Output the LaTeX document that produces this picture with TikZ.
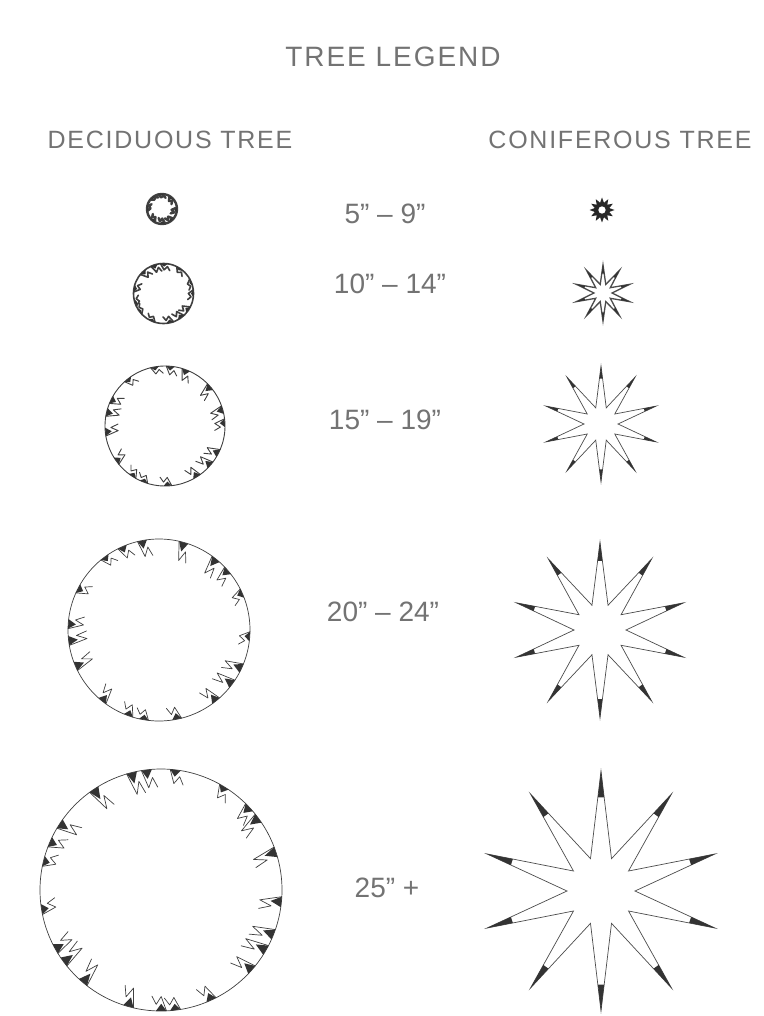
\documentclass[tikz,border=0pt]{standalone}
\usepackage{fontspec}
\setmainfont{Liberation Sans}
\newfontfamily\spacedfont[LetterSpace=7]{Liberation Sans}
\usetikzlibrary{calc}
\newcommand\decidtree[7]{% x y R N lw s depth
  \begin{scope}[shift={(#1,#2)}]
    \draw[draw=black!75, line width=#5] (0,0) circle[radius=#3];
    \foreach \k in {1,...,#4}{
      \pgfmathsetmacro\aa{360*\k/#4 + 6*sin(97*\k)}
      \pgfmathsetmacro\dd{#3*#7*(1+0.3*sin(53*\k))}
      \draw[draw=black!75, line width=#5, line join=round, line cap=round]
        ({\aa-#6}:#3) -- (\aa:{#3-\dd}) -- ({\aa+#6}:{#3-0.45*\dd}) -- ({\aa+2*#6}:{#3-\dd});
      \fill[black!80] ({\aa-#6}:#3) -- ({\aa+#6}:#3) -- (\aa:{#3-0.5*\dd}) -- cycle;
    }
  \end{scope}}
\newcommand\conifertree[7]{% x y R ri N lw tipfrac
  \begin{scope}[shift={(#1,#2)}]
    \pgfmathsetmacro\st{360/#5}
    \draw[draw=black!70, line width=#6, line join=miter, miter limit=25]
      (90:#3) \foreach \k in {1,...,#5}{ -- ({90+\st*\k-\st/2}:#4) -- ({90+\st*\k}:#3)} -- cycle;
    \foreach \k in {1,...,#5}{
      \fill[black!80] ({90+\st*\k}:#3)
        -- ($({90+\st*\k}:#3)!#7!({90+\st*\k-\st/2}:#4)$)
        -- ($({90+\st*\k}:#3)!#7!({90+\st*\k+\st/2}:#4)$) -- cycle;
    }
  \end{scope}}
\begin{document}
\begin{tikzpicture}[x=1pt,y=-1pt,
  ttl/.style={text=black!55, inner sep=0pt, font=\spacedfont\fontsize{28}{30}\selectfont},
  hdr/.style={text=black!55, inner sep=0pt, font=\spacedfont\fontsize{25}{28}\selectfont},
  lbl/.style={text=black!55, inner sep=0pt, font=\fontsize{28}{30}\selectfont}]
\useasboundingbox[fill=white] (0,0) rectangle (763,1016);

% texts
\node[ttl] (title) at (393,57) {TREE LEGEND};
\node[hdr] (hdec) at (170,140) {DECIDUOUS TREE};
\node[hdr] (hcon) at (620,140) {CONIFEROUS TREE};
\node[lbl] (s1) at (385,214) {5" – 9"};
\node[lbl] (s2) at (390,284) {10" – 14"};
\node[lbl] (s3) at (385,420) {15" – 19"};
\node[lbl] (s4) at (383,612) {20" – 24"};
\node[lbl] (s5) at (387,888) {25" +};

% deciduous symbols
\coordinate (d1) at (162,209);
\coordinate (d2) at (163.5,293.5);
\coordinate (d3) at (165,426);
\coordinate (d4) at (159,630);
\coordinate (d5) at (161,890);
\decidtree{162}{209}{15}{8}{2.4pt}{11}{0.28}
\decidtree{163.5}{293.5}{30}{13}{1.6pt}{7}{0.2}
\decidtree{165}{426}{60}{17}{0.9pt}{4}{0.17}
\decidtree{159}{630}{91}{19}{0.7pt}{3}{0.16}
\decidtree{161}{890}{121}{23}{0.7pt}{2.5}{0.15}

% coniferous symbols
\coordinate (c1) at (602,210);
\begin{scope}[shift={(602,210)}]
  \pgfmathsetmacro\stt{30}
  \fill[black!85, even odd rule]
    (90:12.5) \foreach \k in {1,...,12}{ -- ({90+\stt*\k-\stt/2}:7.5) -- ({90+\stt*\k}:12.5)} -- cycle
    (0,0) circle[radius=3.8];
\end{scope}
\coordinate (c2) at (603,293);
\coordinate (c3) at (601,424);
\coordinate (c4) at (600,630);
\coordinate (c5) at (601,891);
\conifertree{603}{293}{28}{9}{10}{1.3pt}{0.45}
\conifertree{601}{424}{58}{17}{10}{0.7pt}{0.3}
\conifertree{600}{630}{88}{26}{10}{0.7pt}{0.3}
\conifertree{601}{891}{120}{34}{10}{0.7pt}{0.3}
\end{tikzpicture}
\end{document}
